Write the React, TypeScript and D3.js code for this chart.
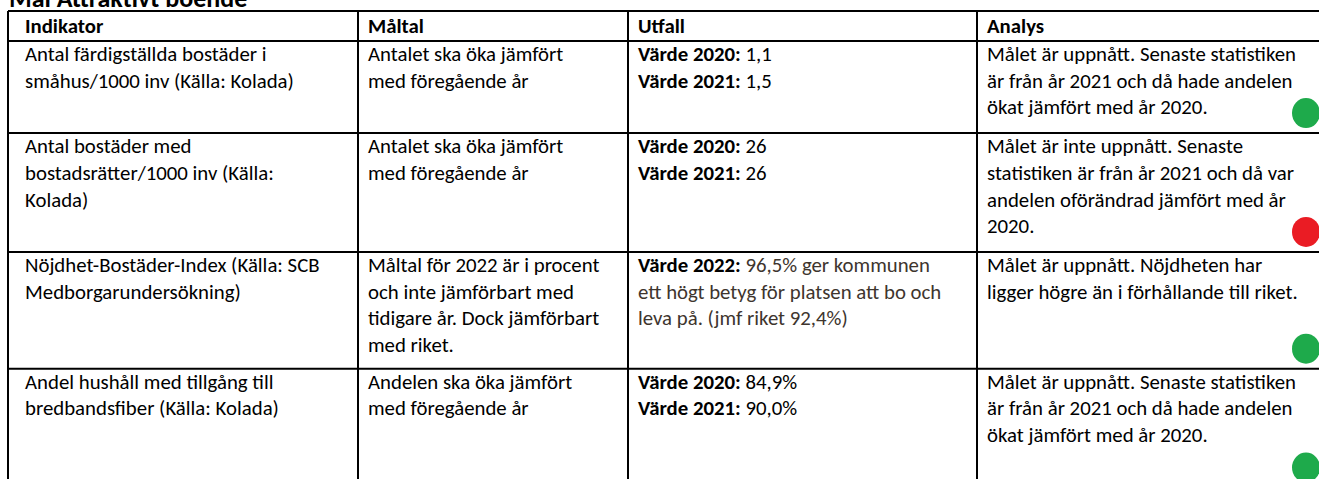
import React from "react";
import * as d3 from "d3";

const W = 1319;
const H = 479;

const title = "Mål Attraktivt boende";
const headers = ["Indikator", "Måltal", "Utfall", "Analys"];

const indicators: string[][] = [
  ["Antal färdigställda bostäder i", "småhus/1000 inv (Källa: Kolada)"],
  ["Antal bostäder med", "bostadsrätter/1000 inv (Källa:", "Kolada)"],
  ["Nöjdhet-Bostäder-Index (Källa: SCB", "Medborgarundersökning)"],
  ["Andel hushåll med tillgång till", "bredbandsfiber (Källa: Kolada)"],
];

const targets: string[][] = [
  ["Antalet ska öka jämfört", "med föregående år"],
  ["Antalet ska öka jämfört", "med föregående år"],
  ["Måltal för 2022 är i procent", "och inte jämförbart med", "tidigare år. Dock jämförbart", "med riket."],
  ["Andelen ska öka jämfört", "med föregående år"],
];

// each line: [bold label, plain text]
const outcomes: [string, string][][] = [
  [["Värde 2020:", " 1,1"], ["Värde 2021:", " 1,5"]],
  [["Värde 2020:", " 26"], ["Värde 2021:", " 26"]],
  [["Värde 2022:", " 96,5% ger kommunen"], ["", "ett högt betyg för platsen att bo och"], ["", "leva på. (jmf riket 92,4%)"]],
  [["Värde 2020:", " 84,9%"], ["Värde 2021:", " 90,0%"]],
];
const outcomeTone = ["plain", "plain", "brown", "plain"];

const analyses: string[][] = [
  ["Målet är uppnått. Senaste statistiken", "är från år 2021 och då hade andelen", "ökat jämfört med år 2020."],
  ["Målet är inte uppnått. Senaste", "statistiken är från år 2021 och då var", "andelen oförändrad jämfört med år", "2020."],
  ["Målet är uppnått. Nöjdheten har", "ligger högre än i förhållande till riket."],
  ["Målet är uppnått. Senaste statistiken", "är från år 2021 och då hade andelen", "ökat jämfört med år 2020."],
];

const status = ["uppnått", "ej", "uppnått", "uppnått"];
// number of text-line slots each row occupies (includes the row's status marker)
const rowSlots = [3, 4, 4, 4];

const FONT = "Carlito, Calibri, Lato, 'Open Sans', sans-serif";
const FS = 20.8;
const LINE = 26.7;

export default function App() {
  const tableLeft = 8;
  const tableTop = 11;
  const headerH = 30;
  const pad = 12;

  // column boundaries
  const colX = d3.scaleOrdinal<string, number>().domain(headers).range([8, 358, 628, 977]);
  const colRight = 1340;
  const textX = (h: string) => colX(h) + (h === "Indikator" ? 17 : 10);

  const heights = rowSlots.map((n, i) => n * LINE + pad - (i === 2 ? 2 : 0));
  const rowTops = [tableTop + headerH, ...Array.from(d3.cumsum(heights)).map((c) => tableTop + headerH + c)];

  const statusColor = d3.scaleOrdinal<string, string>().domain(["uppnått", "ej"]).range(["#1EAA4B", "#EA1C24"]);

  const lineY = (row: number, i: number) => rowTops[row] + 20 + i * LINE;

  const bottom = rowTops[rowTops.length - 1];

  return (
    <svg
      width={W}
      height={H}
      style={{ position: "fixed", left: 0, top: 0, background: "#fff", fontFamily: FONT }}
    >
      <rect x={0} y={0} width={W} height={H} fill="#fff" />
      <text x={9} y={7} fontSize={26} fontWeight={700} fill="#000">
        {title}
      </text>

      {/* header text */}
      {headers.map((h) => (
        <text key={h} x={textX(h)} y={tableTop + 22} fontSize={FS} fontWeight={700} fill="#000">
          {h}
        </text>
      ))}

      {/* body */}
      {indicators.map((_, r) => (
        <g key={r}>
          {indicators[r].map((t, i) => (
            <text key={"i" + i} x={textX("Indikator")} y={lineY(r, i)} fontSize={FS} fill="#000">
              {t}
            </text>
          ))}
          {targets[r].map((t, i) => (
            <text key={"t" + i} x={textX("Måltal")} y={lineY(r, i)} fontSize={FS} fill="#000">
              {t}
            </text>
          ))}
          {outcomes[r].map(([b, t], i) => (
            <text key={"o" + i} x={textX("Utfall")} y={lineY(r, i)} fontSize={FS} fill="#000">
              {b && <tspan fontWeight={700}>{b}</tspan>}
              <tspan fill={outcomeTone[r] === "brown" ? "#3E352E" : "#000"}>{t}</tspan>
            </text>
          ))}
          {analyses[r].map((t, i) => (
            <text key={"a" + i} x={textX("Analys")} y={lineY(r, i)} fontSize={FS} fill="#000">
              {t}
            </text>
          ))}
          <ellipse
            cx={1306}
            cy={rowTops[r + 1] - 20}
            rx={14}
            ry={15}
            fill={statusColor(status[r])}
          />
        </g>
      ))}

      {/* grid lines */}
      <g stroke="#000" strokeWidth={2}>
        {[tableTop, ...rowTops].map((y, i) => (
          <line key={"h" + i} x1={tableLeft} x2={colRight} y1={y} y2={y} />
        ))}
        {headers.map((h) => (
          <line key={"v" + h} x1={colX(h)} x2={colX(h)} y1={tableTop} y2={bottom} />
        ))}
      </g>
    </svg>
  );
}
